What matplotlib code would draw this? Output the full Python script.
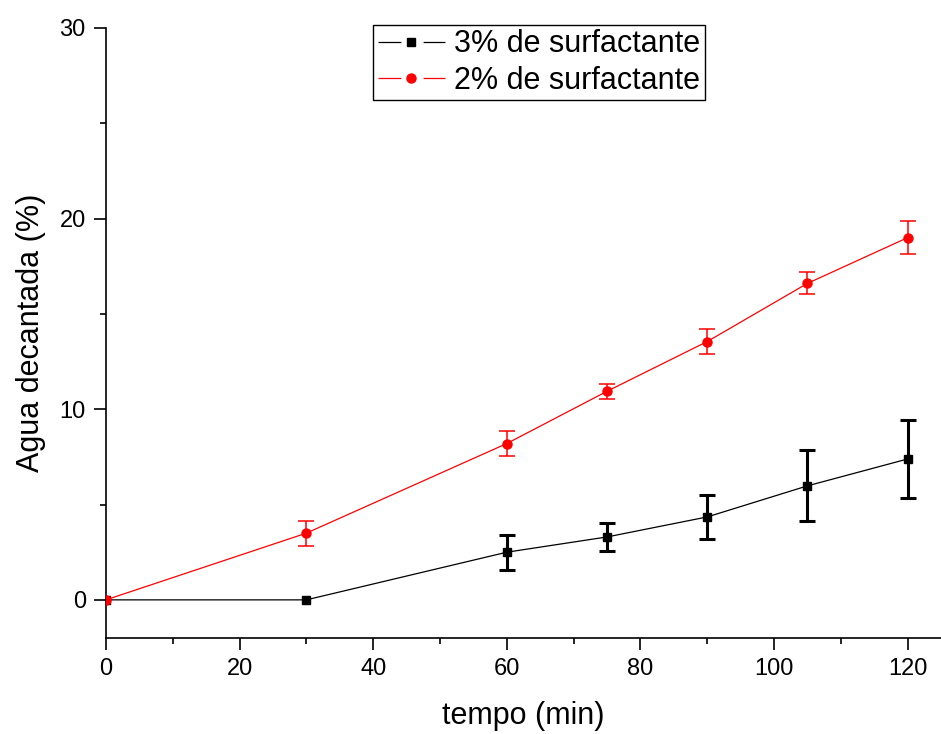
import numpy as np
import matplotlib
matplotlib.use("Agg")
import matplotlib.pyplot as plt
from matplotlib.lines import Line2D
from matplotlib.ticker import MultipleLocator

plt.rcParams['font.family'] = ['Liberation Sans', 'DejaVu Sans']
plt.rcParams['lines.scale_dashes'] = False

# tempo (min) e agua decantada (%) com desvio (nan = sem barra)
tempo = [0, 30, 60, 75, 90, 105, 120]
agua_3 = [0, 0, 2.5, 3.3, 4.35, 5.98, 7.39]
erro_3 = [np.nan, np.nan, 0.92, 0.74, 1.14, 1.86, 2.04]
agua_2 = [0, 3.5, 8.2, 10.94, 13.55, 16.6, 19.0]
erro_2 = [np.nan, 0.65, 0.66, 0.39, 0.66, 0.58, 0.86]

rotulos = ['3% de surfactante', '2% de surfactante']

fig = plt.figure(figsize=(9.41, 7.34), dpi=100)
ax = fig.add_axes([0.1126, 0.1308, 0.8874, 0.8311])

# 3% - preto, quadrados
ax.errorbar(tempo, agua_3, yerr=erro_3, color='black', lw=0.9,
            marker='s', ms=5.5, elinewidth=2.2, capsize=5.5, capthick=2.2,
            zorder=2)
# 2% - vermelho, circulos
ax.errorbar(tempo, agua_2, yerr=erro_2, color='red', lw=0.9,
            marker='o', ms=6.5, elinewidth=1.1, capsize=5.5, capthick=1.1,
            zorder=3)

ax.set_xlim(0, 125)
ax.set_ylim(-2, 30)
ax.xaxis.set_major_locator(MultipleLocator(20))
ax.xaxis.set_minor_locator(MultipleLocator(10))
ax.yaxis.set_major_locator(MultipleLocator(10))
ax.yaxis.set_minor_locator(MultipleLocator(5))

for lado in ['top', 'right']:
    ax.spines[lado].set_visible(False)
for lado in ['left', 'bottom']:
    ax.spines[lado].set_linewidth(1.2)

ax.tick_params(which='major', direction='out', length=8.5, width=1.2,
               labelsize=17, pad=6)
ax.tick_params(which='minor', direction='out', length=4.5, width=1.2)

ax.set_xlabel('tempo (min)', fontsize=22, labelpad=15)
ax.set_ylabel('Agua decantada (%)', fontsize=22, labelpad=10)

# legenda: segmento de linha com espaco em volta do marcador
h3 = (Line2D([], [], color='black', lw=0.9, dashes=(16.5, 16.0)),
      Line2D([], [], color='black', ls='none', marker='s', ms=5.5))
h2 = (Line2D([], [], color='red', lw=0.9, dashes=(16.5, 16.0)),
      Line2D([], [], color='red', ls='none', marker='o', ms=6.5))
leg = ax.legend([h3, h2], rotulos, loc='upper left',
                bbox_to_anchor=(0.320, 1.005), borderaxespad=0,
                fontsize=22, frameon=True, fancybox=False, framealpha=1,
                edgecolor='black', borderpad=0.15, labelspacing=0.2,
                handlelength=2.2, handletextpad=0.3)
leg.get_frame().set_linewidth(1.0)

fig.savefig('out.png', dpi=100)
